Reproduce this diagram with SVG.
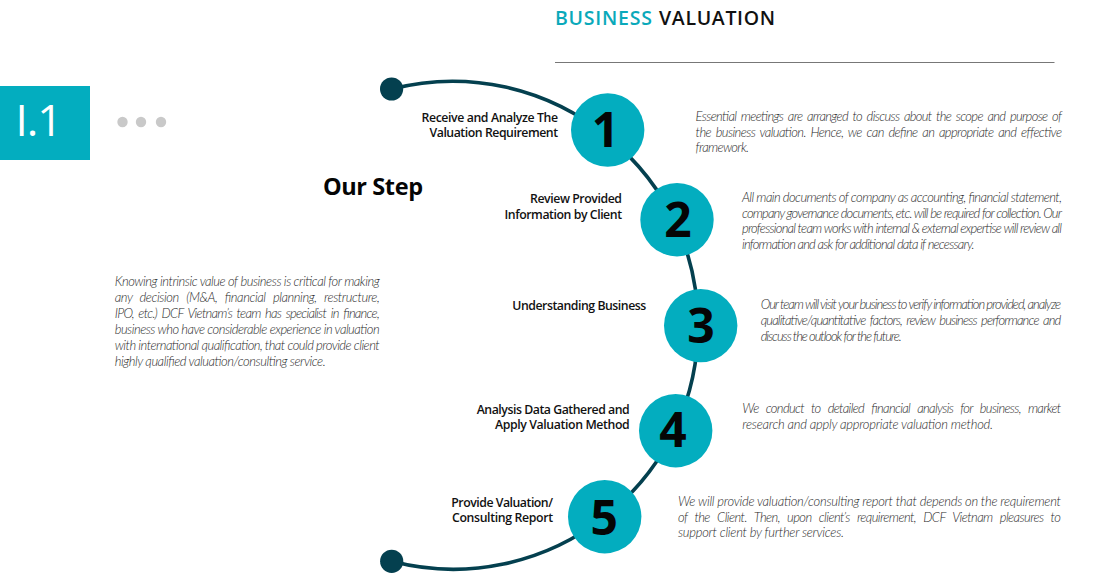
<svg xmlns="http://www.w3.org/2000/svg" width="1100" height="582" viewBox="0 0 1100 582">
<style>
text{font-family:"Open Sans","Noto Sans","Liberation Sans",sans-serif}
.disc{fill:#03adbf}
.num{font-size:48px;font-weight:700;fill:#050505;text-anchor:middle}
.lab{font-size:12.3px;font-weight:600;fill:#111}
.desc text{font-family:Lato,"Open Sans",sans-serif;font-size:13px;font-weight:300;font-style:italic;fill:#2a2a2a}
.conn{fill:none;stroke:#04404f;stroke-width:3.6}
.end{fill:#04404f}
.gd{fill:#c9c9c9}
.ws1{word-spacing:2px}
.ws2{word-spacing:4.5px}
</style>
<rect width="1100" height="582" fill="#fff"/>
<g id="title">
<text x="555" y="24.5" font-size="19.5" font-weight="600" fill="#0aa9ba" textLength="97">BUSINESS</text>
<text x="659" y="24.5" font-size="19.5" font-weight="600" fill="#111" textLength="116">VALUATION</text>
<line x1="555" y1="62.5" x2="1054.5" y2="62.5" stroke="#777" stroke-width="1"/>
</g>
<g id="section-badge">
<rect x="0" y="86" width="90" height="74" class="disc"/>
<text x="15.5" y="136" font-size="44" font-weight="400" fill="#fff" textLength="47">I.1</text>
<circle cx="122.5" cy="122" r="5.2" class="gd"/>
<circle cx="141" cy="122" r="5.2" class="gd"/>
<circle cx="161" cy="122" r="5.2" class="gd"/>
</g>
<g id="heading"><text x="323" y="195" font-size="23.5" font-weight="700" fill="#050505" textLength="100">Our Step</text></g>
<g id="intro" class="desc">
<text x="114.7" y="285.7" textLength="265">Knowing intrinsic value of business is critical for making</text>
<text x="114.7" y="301.7" textLength="265" class="ws2">any decision (M&amp;A, financial planning, restructure,</text>
<text x="114.7" y="317.7" textLength="265" class="ws1">IPO, etc.) DCF Vietnam’s team has specialist in finance,</text>
<text x="114.7" y="333.7" textLength="265">business who have considerable experience in valuation</text>
<text x="114.7" y="349.7" textLength="265">with international qualification, that could provide client</text>
<text x="114.7" y="365.7" textLength="211">highly qualified valuation/consulting service.</text>
</g>
<g id="connectors">
<path class="conn" d="M391.6 89A244 244 0 0 1 607.7 137"/>
<path class="conn" d="M607.7 137A244 244 0 0 1 677 226"/>
<path class="conn" d="M677 226A244 244 0 0 1 698 325"/>
<path class="conn" d="M698 325A244 244 0 0 1 675.7 428"/>
<path class="conn" d="M675.7 428A244 244 0 0 1 604.7 516.7"/>
<path class="conn" d="M604.7 516.7A244 244 0 0 1 391.7 561.3"/>
</g>
<g id="start"><circle cx="391.6" cy="89" r="11.6" class="end"/></g>
<g id="end"><circle cx="391.7" cy="561.3" r="11.6" class="end"/></g>
<g id="step-1">
<circle cx="607.7" cy="130" r="36.7" class="disc"/>
<text x="605.5" y="147" class="num">1</text>
<text x="421.5" y="121.5" class="lab" textLength="136.5">Receive and Analyze The</text>
<text x="429.5" y="137" class="lab" textLength="128.5">Valuation Requirement</text>
<g class="desc">
<text x="695.6" y="121" textLength="366.4" class="ws1">Essential meetings are arranged to discuss about the scope and purpose of</text>
<text x="695.6" y="136.5" textLength="366.4" class="ws1">the business valuation. Hence, we can define an appropriate and effective</text>
<text x="695.6" y="152" textLength="53.5">framework.</text>
</g>
</g>
<g id="step-2">
<circle cx="677" cy="219.7" r="36.7" class="disc"/>
<text x="678" y="236.5" class="num">2</text>
<text x="530" y="203" class="lab" textLength="92">Review Provided</text>
<text x="504.5" y="218.5" class="lab" textLength="117.5">Information by Client</text>
<g class="desc">
<text x="742" y="202" textLength="320">All main documents of company as  accounting, financial statement,</text>
<text x="742" y="217.5" textLength="320">company governance documents, etc. will be required for collection. Our</text>
<text x="742" y="233.2" textLength="320">professional team works with internal &amp; external expertise will review all</text>
<text x="742" y="248.7" textLength="232.6">information and ask for additional data if necessary.</text>
</g>
</g>
<g id="step-3">
<circle cx="700.7" cy="325.6" r="36.7" class="disc"/>
<text x="701" y="342.5" class="num">3</text>
<text x="512.3" y="310" class="lab" textLength="134">Understanding Business</text>
<g class="desc">
<text x="760.7" y="309.3" textLength="300.5">Our team will visit your business to verify information provided, analyze</text>
<text x="760.7" y="325" textLength="300.5" class="ws1">qualitative/quantitative factors, review   business performance and</text>
<text x="760.7" y="340.5" textLength="141">discuss the outlook for the future.</text>
</g>
</g>
<g id="step-4">
<circle cx="675.7" cy="430.7" r="36.7" class="disc"/>
<text x="673" y="447" class="num">4</text>
<text x="476.7" y="413.7" class="lab" textLength="153">Analysis Data Gathered and</text>
<text x="495" y="429" class="lab" textLength="134.7">Apply Valuation Method</text>
<g class="desc">
<text x="742.3" y="413.3" textLength="319" class="ws2">We conduct to detailed financial analysis for business, market</text>
<text x="742.3" y="429" textLength="250.7">research and apply appropriate valuation method.</text>
</g>
</g>
<g id="step-5">
<circle cx="604.7" cy="516.7" r="36.7" class="disc"/>
<text x="604.3" y="534.5" class="num">5</text>
<text x="451.3" y="506.7" class="lab" textLength="101.7">Provide Valuation/</text>
<text x="452" y="522" class="lab" textLength="101">Consulting Report</text>
<g class="desc">
<text x="678" y="506" textLength="383">We will provide valuation/consulting report that depends on the requirement</text>
<text x="678" y="521.5" textLength="383" class="ws2">of the Client. Then, upon client’s requirement, DCF Vietnam pleasures to</text>
<text x="678" y="537" textLength="166">support client by further services.</text>
</g>
</g>
</svg>
